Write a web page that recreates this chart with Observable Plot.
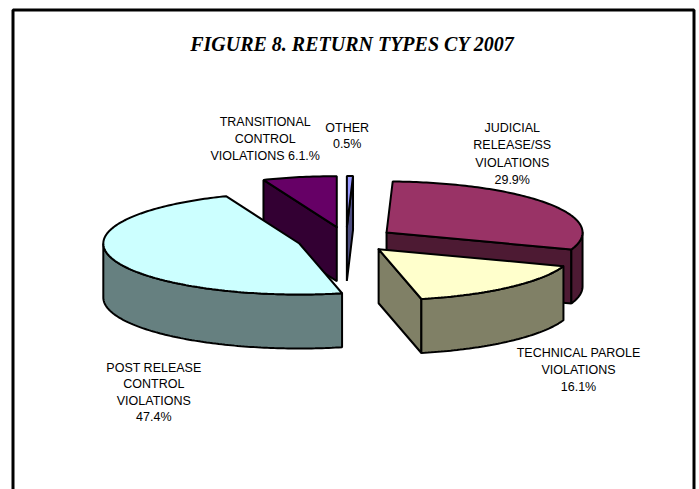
<!DOCTYPE html>
<html><head><meta charset="utf-8">
<script src="https://cdn.jsdelivr.net/npm/d3@7"></script>
<script src="https://cdn.jsdelivr.net/npm/@observablehq/plot@0.6"></script>
<style>html,body{margin:0;padding:0;background:#fff}svg{display:block}</style>
</head><body><div id="chart"></div>
<script>
// Data
const categories = ["OTHER","JUDICIAL RELEASE/SS VIOLATIONS","TECHNICAL PAROLE VIOLATIONS","POST RELEASE CONTROL VIOLATIONS","TRANSITIONAL CONTROL VIOLATIONS"];
const values = [0.5, 29.9, 16.1, 47.4, 6.1];
const topColors = ["#9999FF","#993366","#FFFFCC","#CCFFFF","#660066"];
const wallColors = ["#4D4D80","#4D1A33","#808066","#668080","#330033"];
const titleText = "FIGURE 8. RETURN TYPES CY 2007";
const labelLines = [
  ["OTHER","0.5%"],
  ["JUDICIAL","RELEASE/SS","VIOLATIONS","29.9%"],
  ["TECHNICAL PAROLE","VIOLATIONS","16.1%"],
  ["POST RELEASE","CONTROL","VIOLATIONS","47.4%"],
  ["TRANSITIONAL","CONTROL","VIOLATIONS 6.1.%"]
];
// Layout (pixels)
const W = 699, H = 489, CX = 345.6, CY = 239.2, RX = 196, RY = 51, DEPTH = 54, EXPLODE = 0.25;
const labelX = [346.7, 511.7, 578, 153.3, 264.7];
const labelBase = [131, 131.7, 356.7, 371, 125.7];
const labelStep = [16, 17.2, 16.7, 16.6, 16.7];
const fontSize = 12.5;
const ux = px => (px - CX) / RX, uy = py => (CY - py) / RY;
const depthU = DEPTH / RY;

// Geometry in unit-pie space; pixels come from the Plot scales
const rad = d => d * Math.PI / 180;
const total = d3.sum(values);
let acc = 0;
const slices = values.map((v, i) => {
  const a0 = acc / total * 360; acc += v; const a1 = acc / total * 360;
  const mid = rad((a0 + a1) / 2);
  return {i, a0, a1, ox: EXPLODE * Math.sin(mid), oy: EXPLODE * Math.cos(mid)};
});
const rim = (s, a, dz = 0) => ({x: s.ox + Math.sin(rad(a)), y: s.oy + Math.cos(rad(a)) - dz});
const apex = (s, dz = 0) => ({x: s.ox, y: s.oy - dz});
const arc = (s, a, b, dz = 0) => {
  const n = Math.max(2, Math.ceil(Math.abs(b - a)));
  return d3.range(n + 1).map(k => rim(s, a + (b - a) * k / n, dz));
};
const closed = p => [...p, p[0]];
const topFace = s => closed([apex(s), ...arc(s, s.a0, s.a1)]);
// side wall at the cut edge of angle a
const cut = (s, a) => closed([apex(s), rim(s, a), rim(s, a, depthU), apex(s, depthU)]);
// outer wall between angles a and b (front half only)
const outer = (s, a, b) => closed([...arc(s, a, b), ...arc(s, b, a, depthU)]);

const [sO, sJ, sT, sP, sR] = slices;
const shapes = [
  {pts: cut(sR, sR.a0), fill: wallColors[4]},
  {pts: topFace(sR), fill: topColors[4]},
  {pts: cut(sO, sO.a1), fill: wallColors[0]},
  {pts: topFace(sO), fill: topColors[0]},
  {pts: outer(sP, sP.a0, 270), fill: wallColors[3]},
  {pts: topFace(sP), fill: topColors[3]},
  {pts: cut(sJ, sJ.a1), fill: wallColors[1]},
  {pts: outer(sJ, 90, sJ.a1), fill: wallColors[1]},
  {pts: topFace(sJ), fill: topColors[1]},
  {pts: cut(sT, sT.a1), fill: wallColors[2]},
  {pts: outer(sT, sT.a0, sT.a1), fill: wallColors[2]},
  {pts: topFace(sT), fill: topColors[2]}
];
const labelRows = labelLines.flatMap((lines, i) => lines.map((t, k) => ({
  t, x: ux(labelX[i]), y: uy(labelBase[i] + k * labelStep[i] - 0.32 * fontSize)
})));
const border = [{x: ux(12.5), y: uy(H + 5)}, {x: ux(12.5), y: uy(9.5)}, {x: ux(693.5), y: uy(9.5)}, {x: ux(693.5), y: uy(H + 5)}];

const chart = Plot.plot({
  width: W, height: H, margin: 0, style: {background: "#fff"},
  x: {domain: [ux(0), ux(W)], range: [0, W], axis: null},
  y: {domain: [uy(H), uy(0)], range: [H, 0], axis: null},
  marks: [
    Plot.line(border, {x: "x", y: "y", stroke: "#000", strokeWidth: 3, strokeLinejoin: "miter"}),
    ...shapes.map(s => Plot.line(s.pts, {x: "x", y: "y", fill: s.fill, stroke: "#000", strokeWidth: 2, strokeLinejoin: "miter"})),
    Plot.text([titleText], {x: () => ux(351.5), y: () => uy(44), text: d => d, fontFamily: "Liberation Serif", fontWeight: "bold", fontStyle: "italic", fontSize: 20, fill: "#000"}),
    Plot.text(labelRows, {x: "x", y: "y", text: "t", fontFamily: "Liberation Sans", fontSize, fill: "#000", textAnchor: "middle"})
  ]
});
document.getElementById("chart").append(chart);
</script></body></html>
